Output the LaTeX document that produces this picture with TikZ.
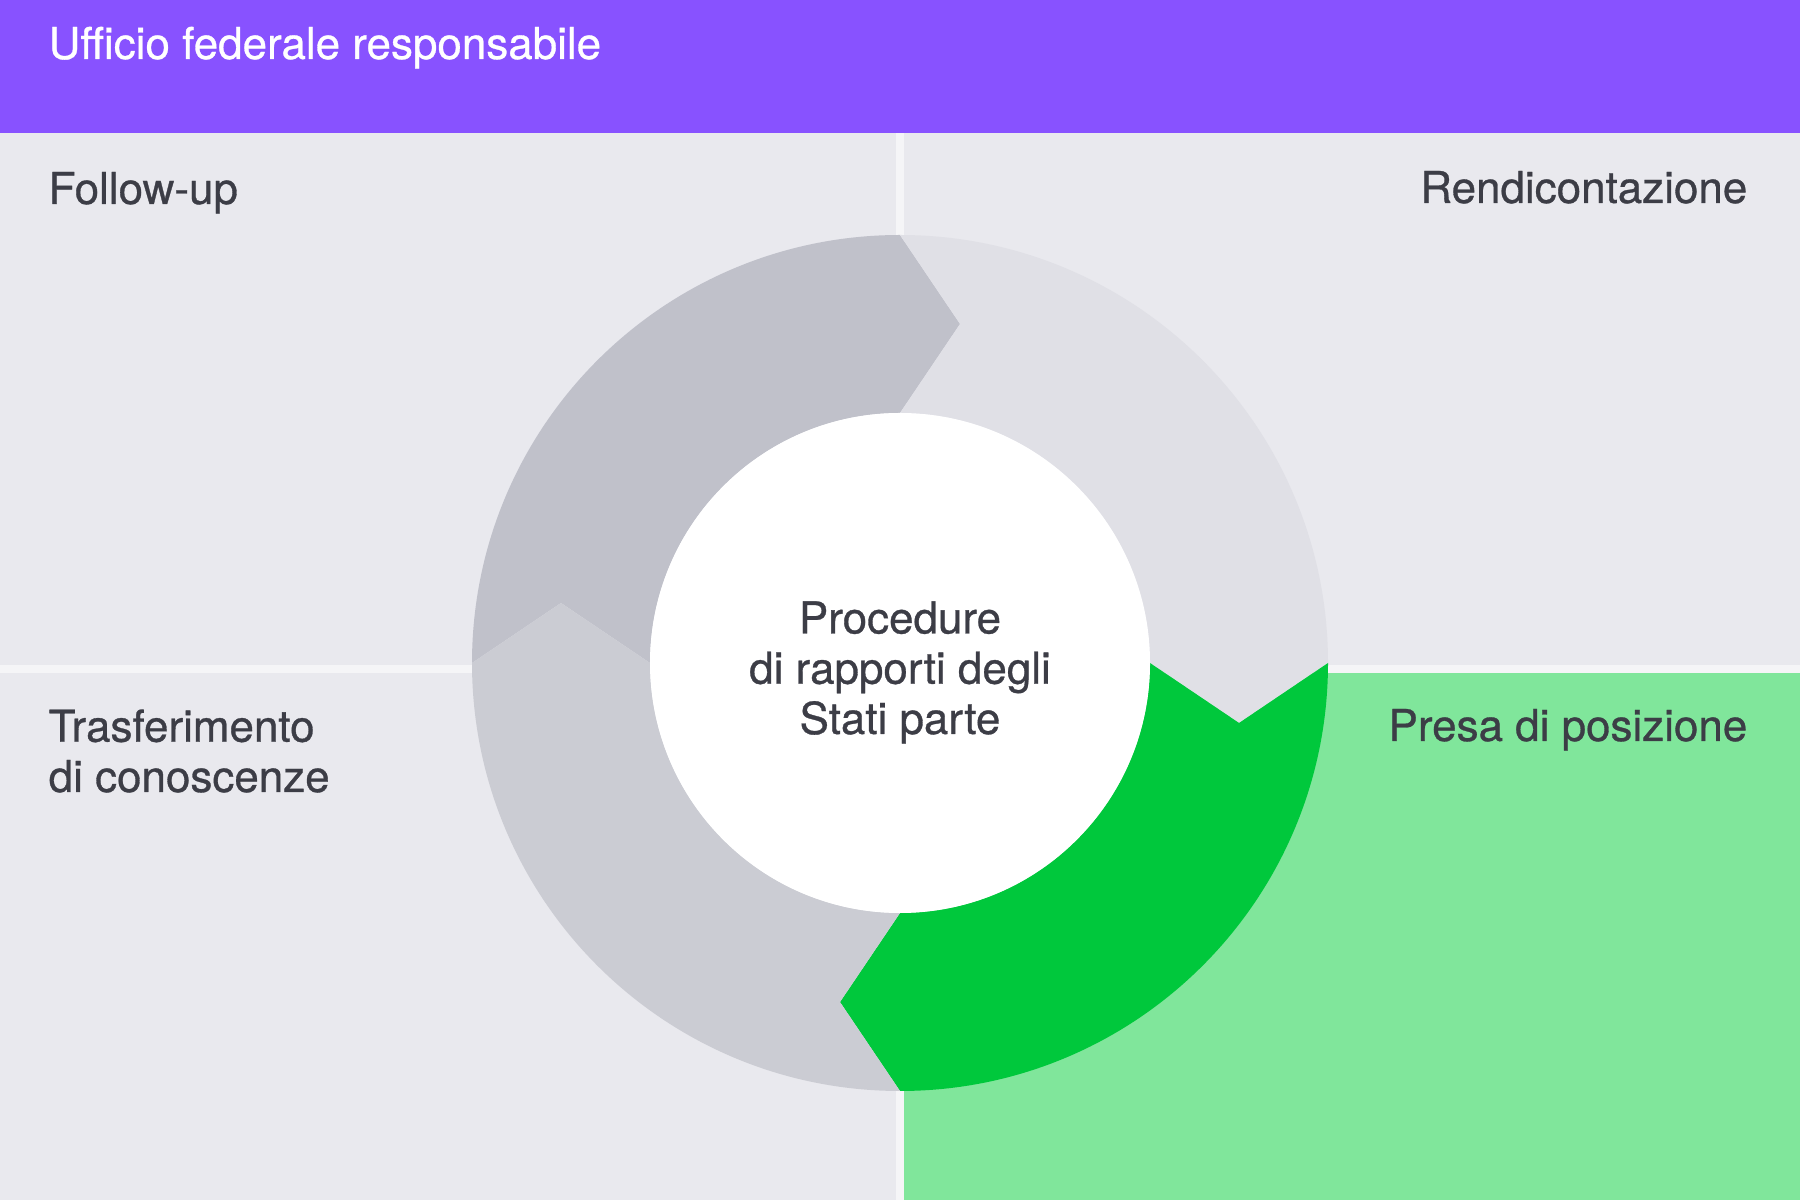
\documentclass[tikz,border=0pt]{standalone}
\usepackage{fontspec}
\setmainfont{TeX Gyre Heros}
\newfontfamily\labelfont{TeX Gyre Heros}[FakeBold=0.7]
\definecolor{headerviolet}{RGB}{136,82,255}
\definecolor{quadgray}{RGB}{233,233,238}
\definecolor{quadgreen}{RGB}{128,230,155}
\definecolor{divider}{RGB}{245,245,247}
\definecolor{segFollow}{RGB}{192,193,202}
\definecolor{segReport}{RGB}{224,224,230}
\definecolor{segPosition}{RGB}{0,200,60}
\definecolor{segKnow}{RGB}{203,204,211}
\definecolor{labeltext}{RGB}{60,61,70}
\begin{document}
\begin{tikzpicture}[
  x=0.01cm, y=0.01cm,
  label/.style={inner sep=0pt, text=labeltext, font=\labelfont\fontsize{12.5pt}{14.3pt}\selectfont},
  quad/.style={fill=quadgray}
]
\useasboundingbox (0,0) rectangle (1800,1200);
\fill[divider] (0,0) rectangle (1800,1200);
\fill[headerviolet] (0,1067) rectangle (1800,1200);

% quadrants
\fill[quad] (0,535) rectangle (896,1067);
\fill[quad] (904,535) rectangle (1800,1067);
\fill[quad] (0,0) rectangle (896,527);
\fill[quadgreen] (904,0) rectangle (1800,527);

% cycle ring, each part ends in a head pointing clockwise
\begin{scope}[shift={(900,537)}]
\foreach \s/\col in {180/segFollow, 90/segReport, 0/segPosition, -90/segKnow}{
  \pgfmathsetmacro\e{\s-90}
  \pgfmathsetmacro\ta{\s-10.04}
  \pgfmathsetmacro\tb{\e-10.04}
  \fill[\col] (\s:428) arc[start angle=\s, end angle=\e, radius=428]
    -- (\tb:344.3) -- (\e:250) arc[start angle=\e, end angle=\s, radius=250]
    -- (\ta:344.3) -- cycle;
}
\fill[white] (0,0) circle[radius=250];
\end{scope}

\node[label, text=white, anchor=base west] (office) at (48,1141) {Ufficio federale responsabile};
\node[label, anchor=base west] (followup) at (48,996) {Follow-up};
\node[label, anchor=base east] (report) at (1748,997) {Rendicontazione};
\node[label, anchor=base west, align=left] (knowledge) at (48,408) {Trasferimento\\di conoscenze};
\node[label, anchor=base east] (position) at (1748,459) {Presa di posizione};
\node[label, anchor=base, align=center] (core) at (900,466) {Procedure\\di rapporti degli\\Stati parte};
\end{tikzpicture}
\end{document}
